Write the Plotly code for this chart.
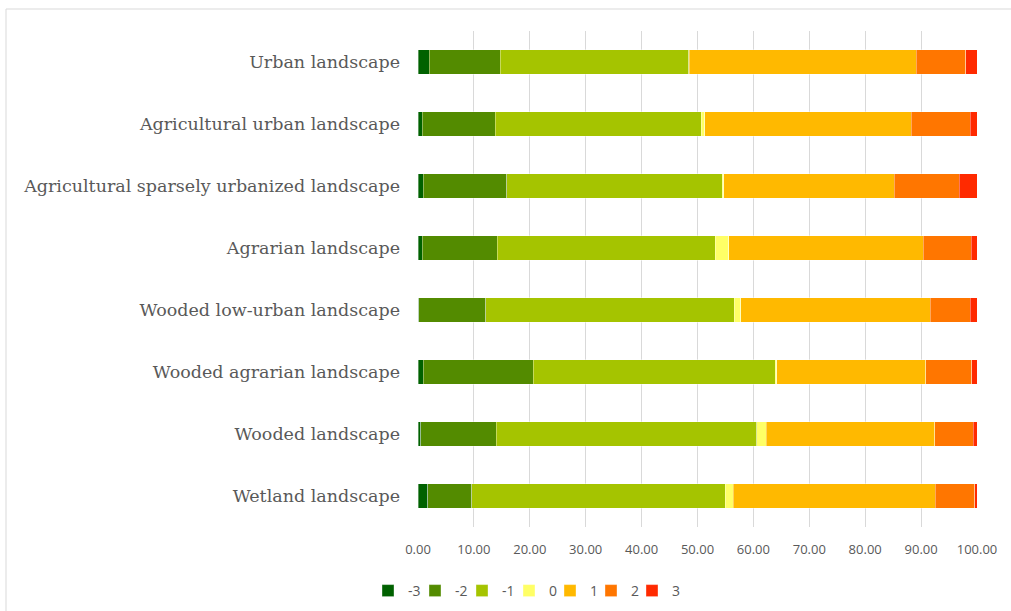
import plotly.graph_objects as go

categories = [
    "Urban landscape",
    "Agricultural urban landscape",
    "Agricultural sparsely urbanized landscape",
    "Agrarian landscape",
    "Wooded low-urban landscape",
    "Wooded agrarian landscape",
    "Wooded landscape",
    "Wetland landscape",
]

series_names = ["-3", "-2", "-1", "0", "1", "2", "3"]

v_m3 = [2.0, 0.75, 0.95, 0.75, 0.1, 0.95, 0.5, 1.7]
v_m2 = [12.7, 13.05, 14.95, 13.45, 12.0, 19.65, 13.5, 7.9]
v_m1 = [33.7, 36.9, 38.5, 39.0, 44.5, 43.3, 46.6, 45.4]
v_0 = [0.1, 0.6, 0.3, 2.4, 1.1, 0.3, 1.7, 1.4]
v_p1 = [40.6, 36.9, 30.5, 34.8, 33.9, 26.6, 30.1, 36.1]
v_p2 = [8.9, 10.6, 11.6, 8.6, 7.2, 8.3, 6.9, 7.1]
v_p3 = [2.0, 1.2, 3.2, 1.0, 1.2, 0.9, 0.7, 0.4]

series_values = [v_m3, v_m2, v_m1, v_0, v_p1, v_p2, v_p3]
colors = ["#006100", "#538B00", "#A5C400", "#FFFF66", "#FFB900", "#FF7600", "#FF2A00"]

tick_vals = [0, 10, 20, 30, 40, 50, 60, 70, 80, 90, 100]

W, H = 1011, 611
L, R, T, B = 418, 34, 31, 84
pw = W - L - R
ph = H - T - B


def px_x(x):
    return (x - L) / pw


def px_y(y):
    return (T + ph - y) / ph


# approximate left edge (px) of each legend symbol
legend_px = [384, 431, 478, 525, 566, 607, 648]

fig = go.Figure()
legend_layouts = {}
for i, (name, vals, col) in enumerate(zip(series_names, series_values, colors)):
    lname = "legend" if i == 0 else "legend%d" % (i + 1)
    fig.add_trace(go.Bar(
        y=categories, x=vals, name=name, orientation="h",
        marker=dict(color=col, line=dict(color="rgba(255,255,255,0.6)", width=0.6)),
        legend=lname,
    ))
    legend_layouts[lname] = dict(
        x=px_x(legend_px[i] - 16), y=px_y(591),
        xanchor="left", yanchor="middle", orientation="h",
        font=dict(family="Open Sans", size=14, color="#595959"),
        itemwidth=30, itemclick=False, itemdoubleclick=False,
        bgcolor="rgba(0,0,0,0)",
    )

fig.update_layout(
    width=W, height=H,
    barmode="stack",
    bargap=0.61,
    plot_bgcolor="white",
    paper_bgcolor="white",
    margin=dict(l=L, r=R, t=T, b=B, autoexpand=False),
    font=dict(family="Open Sans", color="#595959"),
    xaxis=dict(
        range=[0, 100], tickvals=tick_vals, tickformat=".2f",
        showgrid=True, gridcolor="#D9D9D9", gridwidth=1,
        zeroline=False, showline=False, ticks="",
        tickfont=dict(family="Open Sans", size=13, color="#595959"),
        ticklabelstandoff=13,
    ),
    yaxis=dict(
        categoryorder="array", categoryarray=categories,
        autorange="reversed", showgrid=False, zeroline=False,
        showline=False, ticks="",
        tickfont=dict(family="DejaVu Serif", size=17.5, color="#595959"),
        ticklabelstandoff=17,
    ),
    showlegend=True,
    **legend_layouts,
)

fig.add_shape(
    type="rect", xref="paper", yref="paper",
    x0=px_x(6), x1=px_x(1020),
    y0=px_y(620), y1=px_y(9),
    line=dict(color="#D9D9D9", width=1), fillcolor="rgba(0,0,0,0)", layer="below",
)

fig.write_html(
    "out.html",
    config={"displayModeBar": False},
    post_script="document.body.style.margin='0';document.body.style.overflow='hidden';",
)
